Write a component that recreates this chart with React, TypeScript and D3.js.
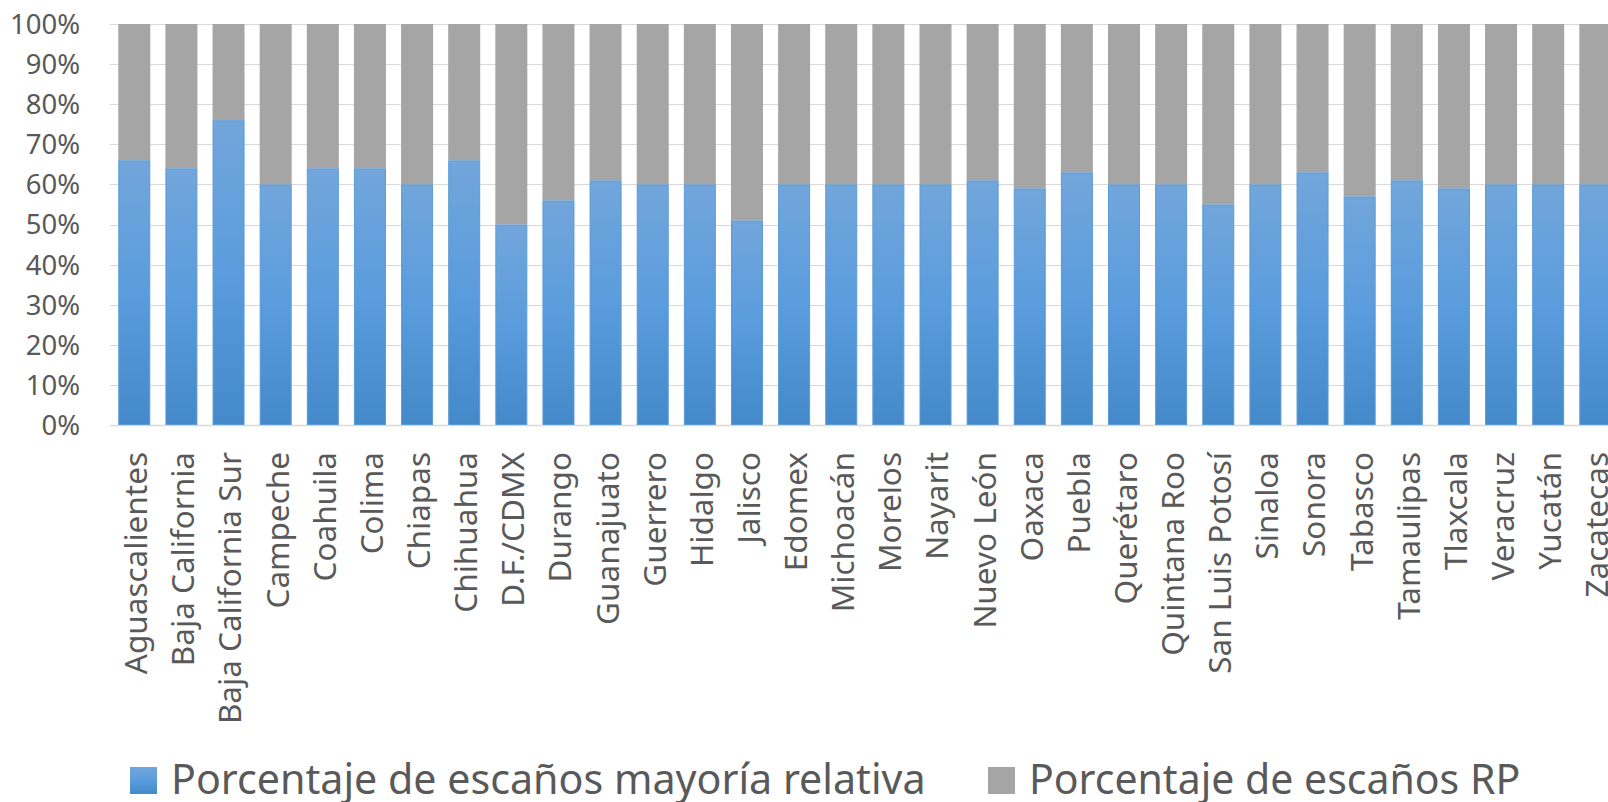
import React from "react";
import * as d3 from "d3";

const states = [
  "Aguascalientes", "Baja California", "Baja California Sur", "Campeche", "Coahuila", "Colima",
  "Chiapas", "Chihuahua", "D.F./CDMX", "Durango", "Guanajuato", "Guerrero", "Hidalgo", "Jalisco",
  "Edomex", "Michoacán", "Morelos", "Nayarit", "Nuevo León", "Oaxaca", "Puebla", "Querétaro",
  "Quintana Roo", "San Luis Potosí", "Sinaloa", "Sonora", "Tabasco", "Tamaulipas", "Tlaxcala",
  "Veracruz", "Yucatán", "Zacatecas",
];

const mayoriaRelativa = [
  66, 64, 76, 60, 64, 64, 60, 66, 50, 56, 61, 60, 60, 51, 60, 60,
  60, 60, 61, 59, 63, 60, 60, 55, 60, 63, 57, 61, 59, 60, 60, 60,
];

const rp = mayoriaRelativa.map((v) => 100 - v);

const yTicks = [0, 10, 20, 30, 40, 50, 60, 70, 80, 90, 100];

const seriesNames = ["Porcentaje de escaños mayoría relativa", "Porcentaje de escaños RP"];

const W = 1608;
const H = 802;
const FONT = "'Noto Sans', 'Open Sans', sans-serif";
const TEXT = "#595959";

export default function App() {
  const x = d3
    .scaleBand<string>()
    .domain(states)
    .range([110.7, 1618.9])
    .paddingInner(0.321)
    .paddingOuter(0.161);
  const y = d3.scaleLinear().domain([0, 100]).range([425, 24]);
  const bw = x.bandwidth();

  return (
    <svg
      width={W}
      height={H}
      style={{ position: "absolute", left: 0, top: 0, background: "#fff" }}
      fontFamily={FONT}
    >
      <defs>
        <linearGradient id="blueGrad" x1="0" y1="0" x2="0" y2="1">
          <stop offset="0%" stopColor="#72a6db" />
          <stop offset="50%" stopColor="#5a9cdd" />
          <stop offset="100%" stopColor="#4489c9" />
        </linearGradient>
      </defs>
      {/* gridlines */}
      {yTicks.map((t) => (
        <line
          key={t}
          x1={110}
          x2={W}
          y1={Math.round(y(t)) + 0.5}
          y2={Math.round(y(t)) + 0.5}
          stroke="#d9d9d9"
          strokeWidth={t === 0 ? 1.5 : 1}
        />
      ))}
      {/* y labels */}
      {yTicks.map((t) => (
        <text
          key={"l" + t}
          x={80}
          y={y(t)}
          dy="0.36em"
          textAnchor="end"
          fontSize={27.5}
          fill={TEXT}
        >
          {t}%
        </text>
      ))}
      {/* bars */}
      {states.map((s, i) => {
        const x0 = x(s)!;
        const v = mayoriaRelativa[i];
        return (
          <g key={s}>
            <rect x={x0} y={y(100)} width={bw} height={y(100 - rp[i]) - y(100)} fill="#a5a5a5" />
            <rect
              x={x0 + 0.5}
              y={y(v) + 0.5}
              width={bw - 1}
              height={y(0) - y(v) - 1}
              fill="url(#blueGrad)"
              stroke="#5b9bd5"
              strokeWidth={1}
            />
          </g>
        );
      })}
      {/* x labels */}
      {states.map((s) => {
        const cx = x(s)! + bw / 2;
        return (
          <text
            key={"x" + s}
            transform={`translate(${cx},452) rotate(-90)`}
            dy="0.41em"
            textAnchor="end"
            fontSize={31.5}
            fill={TEXT}
          >
            {s}
          </text>
        );
      })}
      {/* legend */}
      <rect x={130} y={767} width={27} height={27} fill="url(#blueGrad)" />
      <text x={171} y={794} fontSize={41.2} fill={TEXT}>
        {seriesNames[0]}
      </text>
      <rect x={988} y={767} width={27} height={27} fill="#a5a5a5" />
      <text x={1029} y={794} fontSize={41} fill={TEXT}>
        {seriesNames[1]}
      </text>
    </svg>
  );
}
